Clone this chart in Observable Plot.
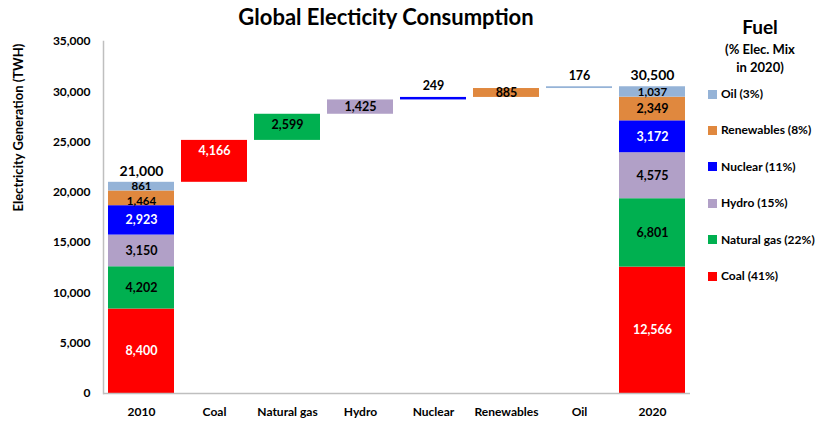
<!DOCTYPE html>
<html><head><meta charset="utf-8">
<script src="https://cdn.jsdelivr.net/npm/d3@7"></script>
<script src="https://cdn.jsdelivr.net/npm/@observablehq/plot@0.6"></script>
<style>
body{margin:0;background:#fff;font-family:Lato,"Open Sans",sans-serif;}
#wrap{position:relative;width:819px;height:422px;overflow:hidden;}
#title{position:absolute;left:0;width:772px;top:3px;text-align:center;font-size:22px;font-weight:bold;line-height:28px;color:#000;}
.lg{position:absolute;font-weight:bold;color:#000;white-space:nowrap;}
.lt{width:140px;left:690px;text-align:center;}
.sw{position:absolute;width:9px;height:9px;left:708px;}
</style></head><body><div id="wrap"><div id="title">Global Electicity Consumption</div></div>
<script>
const categories = ["2010","Coal","Natural gas","Hydro","Nuclear","Renewables","Oil","2020"];
const fuels = ["Coal","Natural gas","Hydro","Nuclear","Renewables","Oil"];
const values2010 = [8400,4202,3150,2923,1464,861];
const values2020 = [12566,6801,4575,3172,2349,1037];
const changes = [4166,2599,1425,249,885,176];
const shares2020 = [41,22,15,11,8,3];
const colors = ["#FF0000","#00B050","#B1A0C7","#0000FF","#E0883E","#95B3D7"];
const whiteTextFuels = ["Coal","Nuclear"];
const total2010 = 21000, total2020 = 30500;
const yTicks = [0,5000,10000,15000,20000,25000,30000,35000];
const yLabel = "Electricity Generation (TWH)";
const legendTitle = ["Fuel","(% Elec. Mix","in 2020)"];

const fmt = d3.format(",");
const rows = [];
function stack(cat, vals){
  let c = 0;
  fuels.forEach((f,i)=>{ rows.push({cat, fuel:f, y1:c, y2:c+vals[i], v:vals[i], kind:"stack"}); c += vals[i]; });
}
stack("2010", values2010);
let run = total2010;
fuels.forEach((f,i)=>{ rows.push({cat:f, fuel:f, y1:run, y2:run+changes[i], v:changes[i], kind:"change"}); run += changes[i]; });
stack("2020", values2020);

const pxPerUnit = 352/35000;
const isSmall = d => d && d.kind==="stack" && (d.y2-d.y1)*pxPerUnit < 16;
const inside = rows.map((d,i) => ({d, i})).filter(({d}) => !(d.kind==="change" && d.v < 500)).map(({d,i}) => {
  const mid = (d.y1+d.y2)/2;
  let ly = d.kind==="change" ? Math.max(mid, d.y2 - 11/pxPerUnit) : mid;
  const small = isSmall(d);
  if (small) {
    const up = rows[i+1];
    if (up && up.cat===d.cat && isSmall(up)) ly -= 2.5/pxPerUnit;
  }
  return {...d, ly, small};
});
const above = rows.filter(d => d.kind==="change" && d.v < 500);
const totals = [{cat:"2010", v:total2010},{cat:"2020", v:total2020}];

const plot = Plot.plot({
  width:819, height:422, marginLeft:103, marginRight:129, marginTop:41, marginBottom:29,
  style:{fontFamily:"Lato, 'Open Sans', sans-serif", fontSize:"12px", fontWeight:"bold", color:"#000", background:"#fff"},
  x:{domain:categories, paddingInner:0.094, paddingOuter:0.037, label:null, tickSize:0, tickPadding:14},
  y:{domain:[0,35000], ticks:yTicks, tickFormat:fmt, label:null, tickSize:0, tickPadding:13},
  color:{domain:fuels, range:colors},
  marks:[
    Plot.barY(rows,{x:"cat", y1:"y1", y2:"y2", fill:"fuel"}),
    Plot.ruleY([0],{stroke:"#bfbfbf", strokeWidth:1.5}),
    Plot.frame({anchor:"left", stroke:"#bfbfbf", strokeWidth:1.5}),
    Plot.text(inside.filter(d=>!d.small),{x:"cat", y:"ly", text:d=>fmt(d.v), fill:d=>whiteTextFuels.includes(d.fuel)?"#fff":"#000", fontSize:12.5}),
    Plot.text(inside.filter(d=>d.small),{x:"cat", y:"ly", text:d=>fmt(d.v), fill:d=>whiteTextFuels.includes(d.fuel)?"#fff":"#000", fontSize:11.5}),
    Plot.text(above,{x:"cat", y:"y2", text:d=>fmt(d.v), dy:-11, fill:"#000", fontSize:12.5}),
    Plot.text(totals,{x:"cat", y:"v", text:d=>fmt(d.v), dy:-11, fill:"#000", fontSize:14}),
    Plot.text([yLabel],{frameAnchor:"left", text:d=>d, rotate:-90, dx:-85, dy:-6, fontSize:13, fill:"#000"})
  ]
});
const wrap = document.getElementById("wrap");
wrap.insertBefore(plot, wrap.firstChild);
plot.style.position="absolute"; plot.style.left="0"; plot.style.top="0";

// legend
const tPos = [{y:27,s:19},{y:49,s:13},{y:67,s:13}];
legendTitle.forEach((t,i)=>{
  const el = document.createElement("div");
  el.className="lg lt"; el.textContent=t;
  el.style.fontSize=tPos[i].s+"px"; el.style.lineHeight="20px"; el.style.top=(tPos[i].y-10)+"px";
  wrap.appendChild(el);
});
const order = fuels.map((f,i)=>i).reverse();
order.forEach((i,k)=>{
  const cy = 94 + k*36.4;
  const sw = document.createElement("div");
  sw.className="sw"; sw.style.background=colors[i]; sw.style.top=(cy-4.5)+"px";
  wrap.appendChild(sw);
  const el = document.createElement("div");
  el.className="lg"; el.textContent=`${fuels[i]} (${shares2020[i]}%)`;
  el.style.left="721px"; el.style.fontSize="12px"; el.style.lineHeight="16px"; el.style.top=(cy-8)+"px";
  wrap.appendChild(el);
});
</script></body></html>
